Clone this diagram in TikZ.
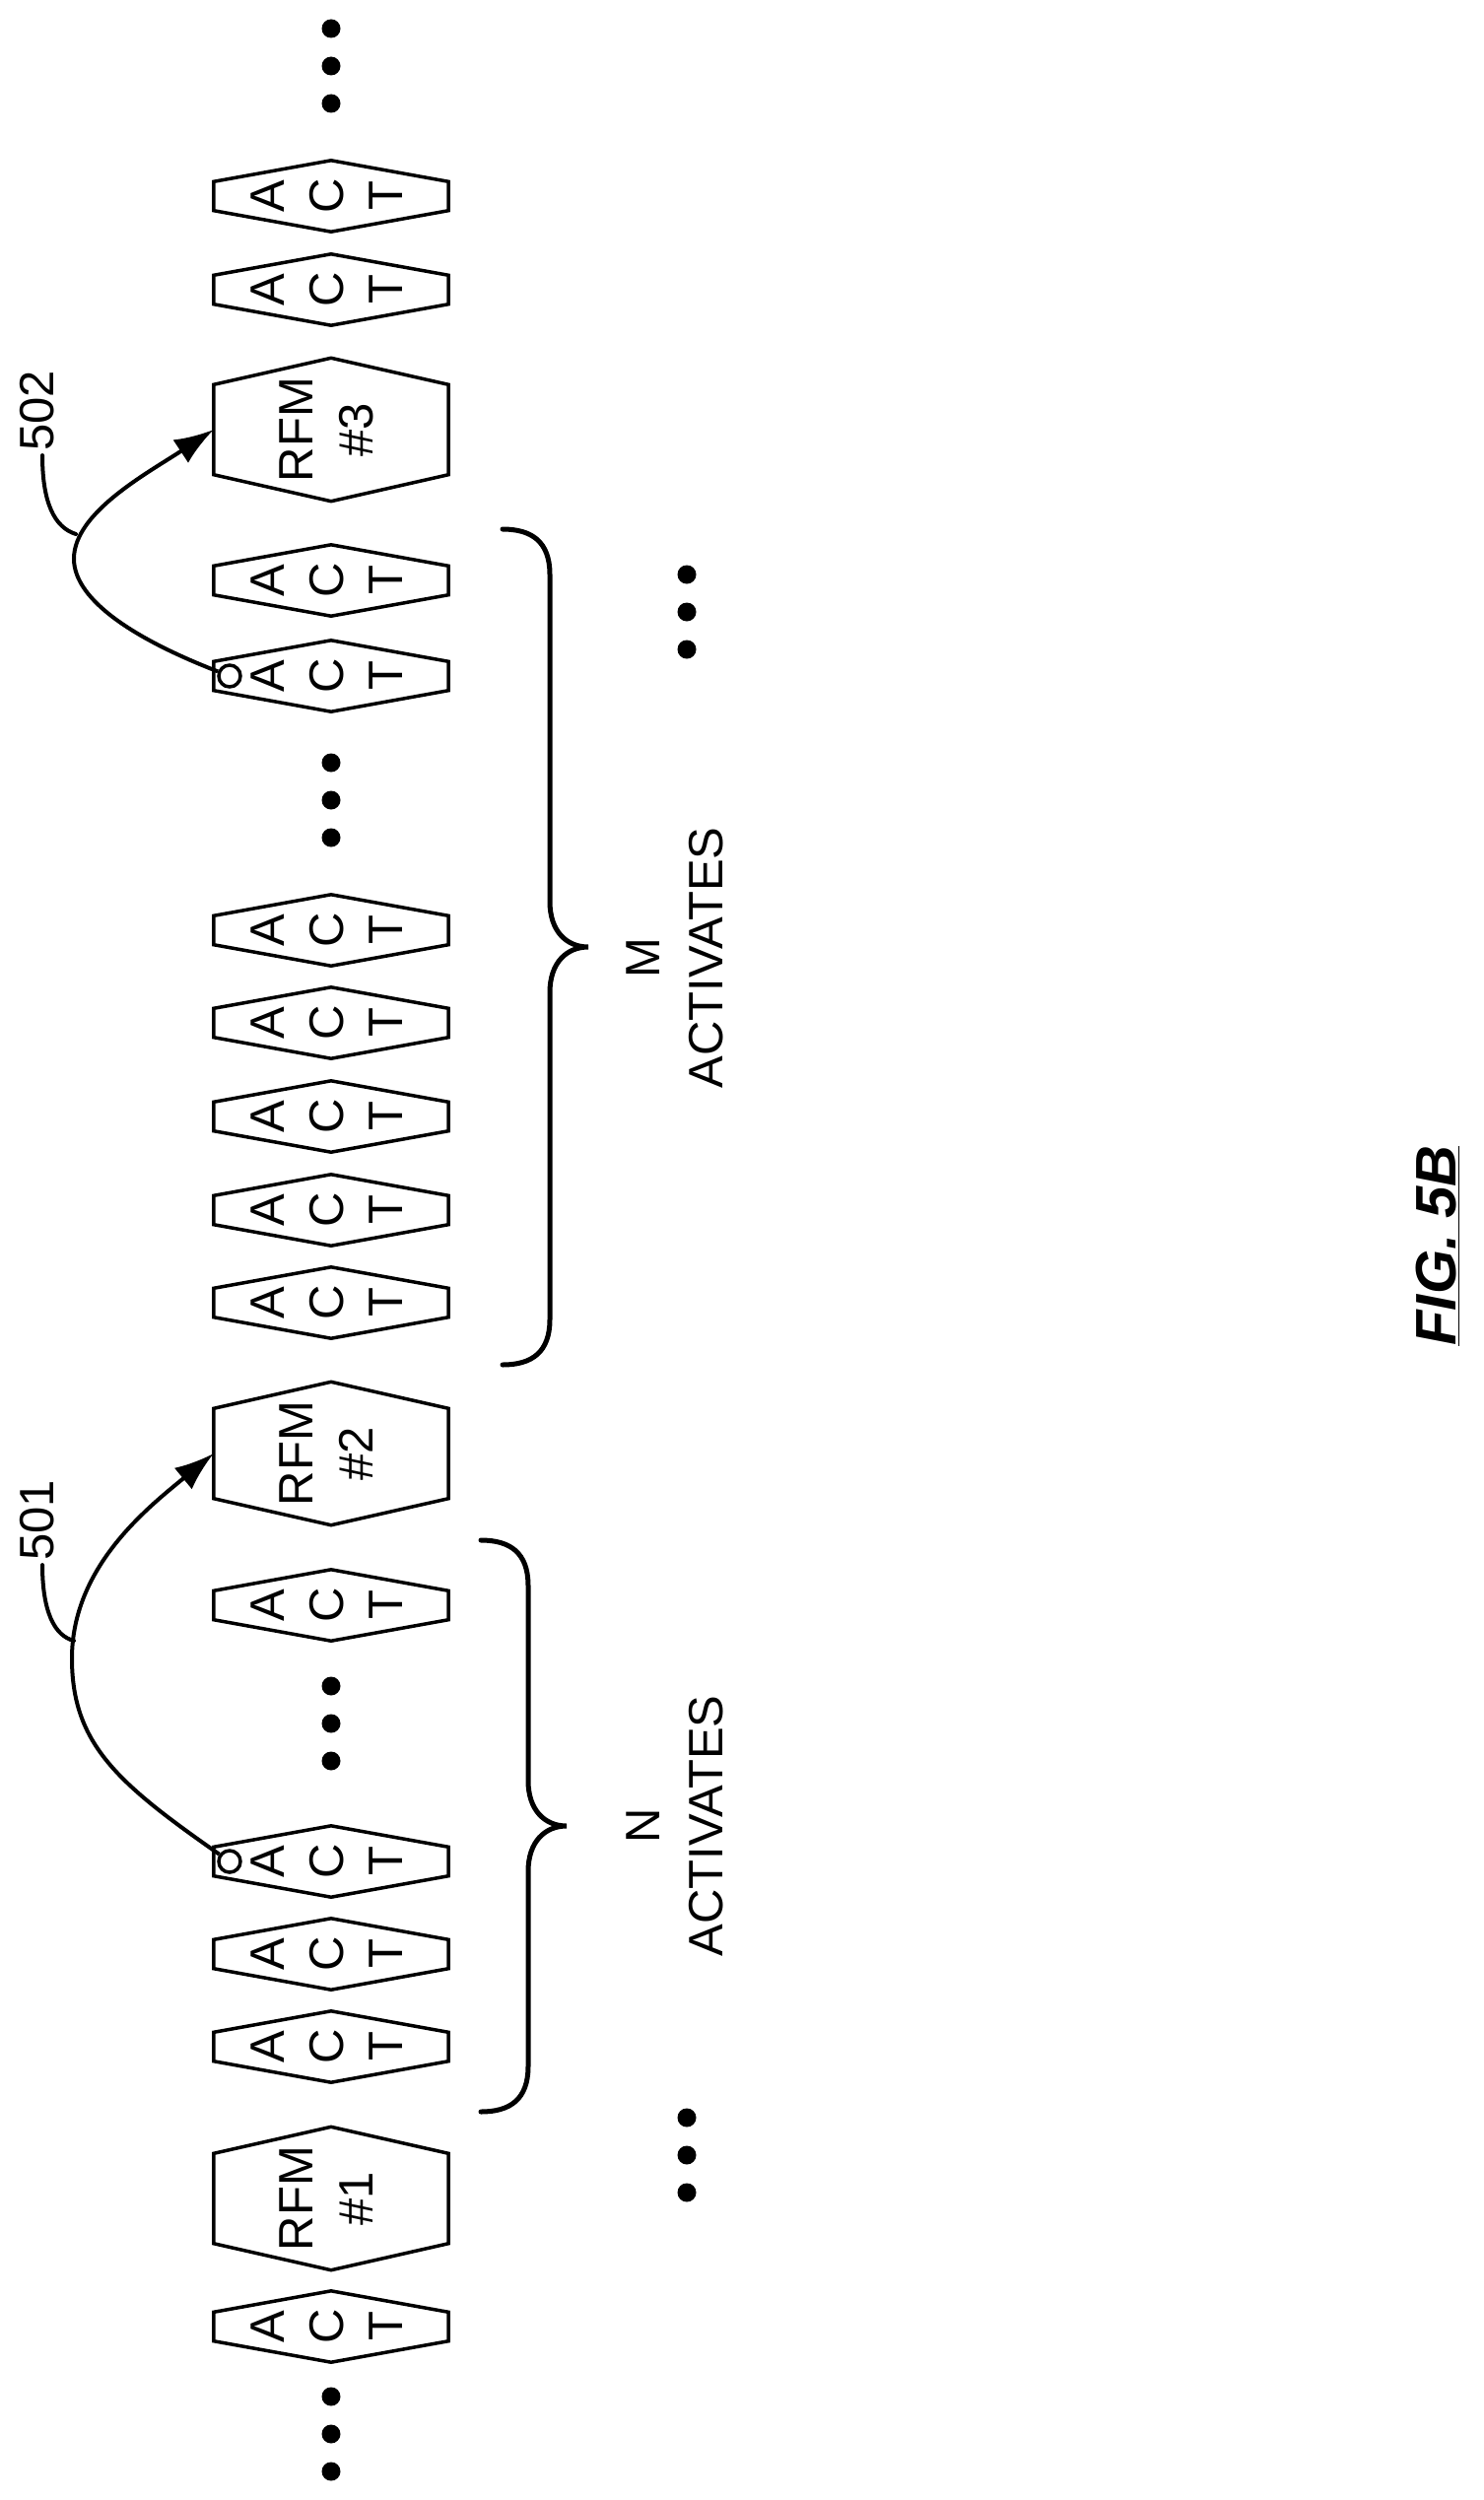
\documentclass[tikz,border=0pt]{standalone}
\usepackage{fontspec}
\setmainfont{Liberation Sans}
\usepackage{graphicx}
\usetikzlibrary{arrows.meta}
\newcommand\mkhex[2]{\draw[hexline] (#1.north) -- ([yshift=-#2]#1.north east) -- ([yshift=#2]#1.south east) -- (#1.south) -- ([yshift=#2]#1.south west) -- ([yshift=-#2]#1.north west) -- cycle;}
\newcommand\actnode[2]{\node[act] (#1) at (336,#2) {\rotatebox{90}{\begin{tabular}{@{}c@{}}A\\C\\T\end{tabular}}};\mkhex{#1}{21.5pt}}
\newcommand\rfmnode[3]{\node[rfm] (#1) at (336,#2) {\rotatebox{90}{\begin{tabular}{@{}c@{}}RFM\\\##3\end{tabular}}};\mkhex{#1}{27pt}}
\newcommand\threedots[2]{\fill (#1,#2) circle (9.5) (#1,#2+38) circle (9.5) (#1,#2+76) circle (9.5);}
\begin{document}
\begin{tikzpicture}[x=1pt,y=-1pt,
  hexline/.style={line width=3.5pt,line join=miter},
  act/.style={draw=none,minimum width=238pt,minimum height=72pt,inner sep=0pt,font=\fontsize{49}{60}\selectfont},
  rfm/.style={draw=none,minimum width=238pt,minimum height=145pt,inner sep=0pt,font=\fontsize{49}{61}\selectfont},
  brace/.style={line width=5pt,line cap=round},
  link/.style={line width=4pt,-{Latex[length=40pt,width=28pt]}},
  leader/.style={line width=4pt,line cap=round},
  lbl/.style={font=\fontsize{49}{64}\selectfont,inner sep=0pt},
  ring/.style={circle,draw,line width=3.5pt,minimum size=22pt,inner sep=0pt}]
\useasboundingbox (0,0) rectangle (1505,2537);
% column of elements
\threedots{336}{29}
\actnode{a1}{199}
\actnode{a2}{294}
\rfmnode{r3}{436}{3}
\actnode{a3}{589}
\actnode{a4}{686}
\threedots{336}{774}
\actnode{a5}{944}
\actnode{a6}{1038}
\actnode{a7}{1133}
\actnode{a8}{1228}
\actnode{a9}{1322}
\rfmnode{r2}{1475}{2}
\actnode{a10}{1629}
\threedots{336}{1711}
\actnode{a11}{1889}
\actnode{a12}{1983}
\actnode{a13}{2077}
\rfmnode{r1}{2231}{1}
\actnode{a14}{2361}
\threedots{336}{2432}
% right side dots
\threedots{697}{583}
\threedots{697}{2149}
% braces
\draw[brace] (510,537) .. controls (540,537) and (558,550) .. (558,583) -- (558,915) .. controls (558,945) and (575,961) .. (597,961) .. controls (575,961) and (558,977) .. (558,1007) -- (558,1339) .. controls (558,1372) and (540,1385) .. (510,1385);
\draw[brace] (488,1563) .. controls (518,1563) and (536,1576) .. (536,1609) -- (536,1807) .. controls (536,1837) and (553,1853) .. (575,1853) .. controls (553,1853) and (536,1869) .. (536,1899) -- (536,2097) .. controls (536,2130) and (518,2143) .. (488,2143);
\node[lbl,rotate=90] (mact) at (689,972) {\begin{tabular}{@{}c@{}}M\\ACTIVATES\end{tabular}};
\node[lbl,rotate=90] (nact) at (689,1853) {\begin{tabular}{@{}c@{}}N\\ACTIVATES\end{tabular}};
% arcs
\node[ring] (c2) at (233,686) {};
\node[ring] (c1) at (233,1889) {};
\draw[link] (c2) .. controls (140,650) and (75,610) .. (75,567) .. controls (75,520) and (150,480) .. (r3.west);
\draw[link] (c1) .. controls (120,1810) and (73,1770) .. (73,1683) .. controls (73,1590) and (150,1530) .. (r2.west);
\node[lbl,rotate=90] (l502) at (38,417) {502};
\node[lbl,rotate=90] (l501) at (38,1543) {501};
\coordinate (j502) at (77,542);
\coordinate (j501) at (75,1665);
\draw[leader] (l502.west) ++(5,4) .. controls (43,510) and (55,535) .. (j502);
\draw[leader] (l501.west) ++(5,4) .. controls (43,1635) and (55,1660) .. (j501);
\node[rotate=90,inner sep=0pt,font=\fontsize{58}{64}\selectfont\bfseries\itshape] (fig) at (1459,1264) {\underline{FIG. 5B}};
\end{tikzpicture}
\end{document}
